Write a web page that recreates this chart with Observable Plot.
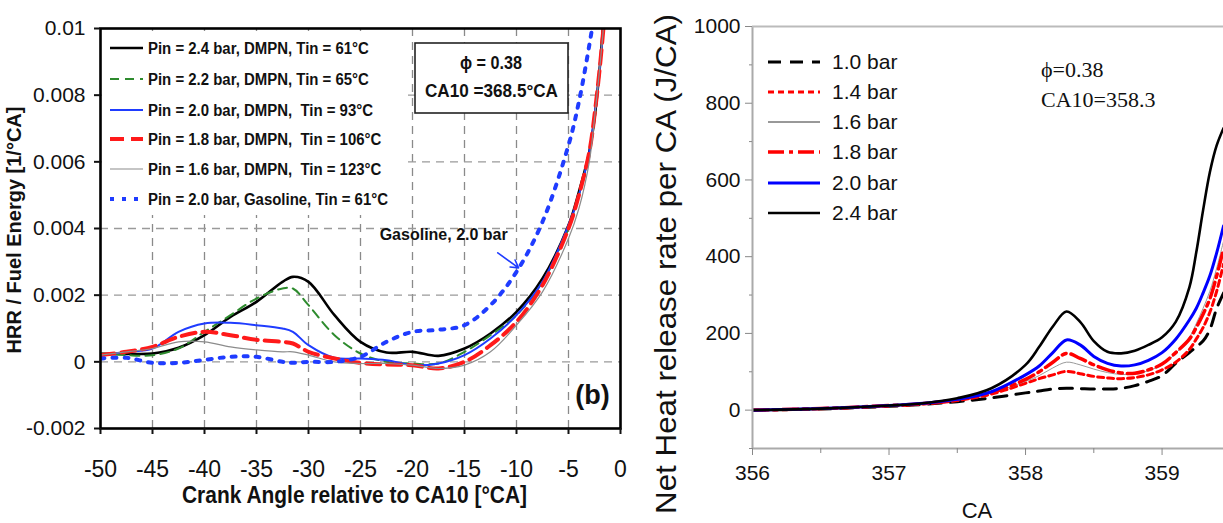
<!DOCTYPE html>
<html><head><meta charset="utf-8">
<script src="https://cdn.jsdelivr.net/npm/d3@7"></script>
<script src="https://cdn.jsdelivr.net/npm/@observablehq/plot@0.6"></script>
<style>
body{margin:0;background:#fff;}
#wrap{position:relative;width:1223px;height:523px;overflow:hidden;background:#fff;}
#left,#right{position:absolute;top:0;}
#left{left:0;} #right{left:640px;}
#overlay{position:absolute;left:0;top:0;pointer-events:none;}
</style></head><body>
<div id="wrap"><div id="left"></div><div id="right"></div><svg id="overlay" width="1223" height="523"></svg></div>
<script>
// ---------- Left panel (b): normalized HRR vs crank angle relative to CA10 ----------
const leftCA = [-50,-47.5,-45,-42.5,-40,-37.5,-35,-32.5,-31.5,-30,-27.5,-25,-22.5,-20,-17.5,-15,-12.5,-10,-7.5,-5,-4,-3,-2.5,-2,-1.5];
const dmpn24 = [0.00024,0.00024,0.00025,0.00042,0.0008,0.00135,0.0018,0.0024,0.00255,0.0024,0.0014,0.0006,0.00028,0.0003,0.00018,0.0004,0.00085,0.0015,0.0025,0.0041,0.0051,0.0063,0.0073,0.0088,0.0108];
const dmpn22 = [0.00025,0.0002,0.0002,0.0004,0.0009,0.0014,0.0019,0.0022,0.0022,0.0017,0.0008,0.00025,0.0,-0.00005,-0.00005,0.0003,0.0008,0.0014,0.0024,0.004,0.005,0.0063,0.0073,0.0088,0.0107];
const dmpn20 = [0.0002,0.0003,0.0004,0.0009,0.00115,0.00117,0.0011,0.001,0.0009,0.0005,0.00012,0.0001,0.00005,-0.0001,-0.00005,0.0002,0.0007,0.0014,0.0024,0.0041,0.005,0.0063,0.0074,0.0088,0.0105];
const dmpn18 = [0.0002,0.0003,0.00045,0.00075,0.0009,0.0008,0.00066,0.0006,0.00055,0.0003,0.0001,-0.00003,-0.00008,-0.0001,-0.0002,0.0,0.0005,0.0012,0.0023,0.004,0.005,0.0063,0.0074,0.0088,0.0105];
const dmpn16 = [0.0002,0.0003,0.0004,0.0006,0.0006,0.00045,0.00036,0.0003,0.0003,0.0002,0.0,-0.00005,-0.00005,-0.0001,-0.0002,-0.0001,0.0003,0.0011,0.0021,0.0037,0.0046,0.006,0.0073,0.0088,0.0105];
const gasoline20 = [0.0001,0.00012,-0.00003,-0.00003,0.00006,0.00015,0.00015,0.0,-0.00003,0.0,0.0,0.00015,0.0006,0.0009,0.00096,0.0011,0.0017,0.0027,0.0042,0.0065,0.0078,0.0095,0.0105,0.012,0.014];
const leftLabels = [
  "Pin = 2.4 bar, DMPN, Tin = 61°C",
  "Pin = 2.2 bar, DMPN, Tin = 65°C",
  "Pin = 2.0 bar, DMPN,  Tin = 93°C",
  "Pin = 1.8 bar, DMPN,  Tin = 106°C",
  "Pin = 1.6 bar, DMPN,  Tin = 123°C",
  "Pin = 2.0 bar, Gasoline, Tin = 61°C"
];
const leftXTicks = [-50,-45,-40,-35,-30,-25,-20,-15,-10,-5,0];
const leftYTicks = [-0.002,0,0.002,0.004,0.006,0.008,0.01];

// ---------- Right panel: net heat release rate per CA ----------
const rightCA = [356,356.5,357,357.25,357.5,357.75,358,358.1,358.2,358.3,358.4,358.5,358.6,358.7,358.8,358.9,359,359.1,359.2,359.25,359.3,359.35,359.4,359.45];
const bar10 = [0,3,10,15,22,32,45,50,55,57,56,55,55,57,64,75,90,122,150,165,180,210,265,305];
const bar14 = [0,4,11,16,25,42,70,82,92,101,95,88,84,82,85,92,105,125,158,185,215,255,310,380];
const bar16 = [0,4,12,17,26,44,75,90,110,125,118,107,98,93,94,103,118,148,190,225,265,310,370,440];
const bar18 = [0,4,12,17,27,45,80,100,125,148,135,118,105,97,96,105,120,150,185,215,250,290,350,420];
const bar20 = [0,4,12,18,28,48,92,115,150,183,170,140,122,115,118,130,150,185,235,265,305,350,410,480];
const bar24 = [0,4,12,18,31,57,118,165,218,257,230,180,152,148,155,170,190,230,320,410,520,620,690,735];
const rightLabels = ["1.0 bar","1.4 bar","1.6 bar","1.8 bar","2.0 bar","2.4 bar"];
const rightXTicks = [356,357,358,359];
const rightXMinor = [356.5,357.5,358.5];
const rightYTicks = [0,200,400,600,800,1000];
const rightYMinor = [-100,100,300,500,700,900];

// ---------- styles (kept separate from data) ----------
const arial = "'Liberation Sans',Arial,Helvetica,sans-serif";
const leftStyles = [
  {v: dmpn24, stroke: "#000000", w: 2.6, dash: null},
  {v: dmpn22, stroke: "#2e8b2e", w: 2, dash: "9,6"},
  {v: dmpn20, stroke: "#1f3cff", w: 2, dash: null},
  {v: dmpn18, stroke: "#ff1a1a", w: 4, dash: "14,7"},
  {v: dmpn16, stroke: "#8c8c8c", w: 1.2, dash: null},
  {v: gasoline20, stroke: "#1f3cff", w: 4, dash: "4,8"}
];
const rightStyles = [
  {v: bar10, stroke: "#000000", legend: "#000000", w: 3, dash: "13,9"},
  {v: bar14, stroke: "#ff0000", legend: "#ff0000", w: 3, dash: "6,4"},
  {v: bar16, stroke: "#9a9a9a", legend: "#333333", w: 1, dash: null},
  {v: bar18, stroke: "#ff0000", legend: "#ff0000", w: 3.5, dash: "16,5,4,5"},
  {v: bar20, stroke: "#0000ff", legend: "#0000ff", w: 3, dash: null},
  {v: bar24, stroke: "#000000", legend: "#000000", w: 2.6, dash: null}
];

// ---------- Left plot ----------
const leftPlot = Plot.plot({
  width: 640, height: 523,
  marginLeft: 100, marginRight: 20, marginTop: 28, marginBottom: 95,
  style: {fontFamily: arial, color: "#111", background: "transparent"},
  x: {domain: [-50, 0]},
  y: {domain: [-0.002, 0.01]},
  marks: [
    Plot.gridX(leftXTicks.slice(1, -1), {stroke: "#8a8a8a", strokeOpacity: 1, strokeWidth: 1.3, strokeDasharray: "8,6"}),
    Plot.gridY(leftYTicks.slice(1, -1), {stroke: "#9a9a9a", strokeOpacity: 1, strokeWidth: 1.3, strokeDasharray: "8,6"}),
    ...leftStyles.map(s => Plot.line(leftCA.map((x, i) => ({x, y: s.v[i]})), {
      x: "x", y: "y", stroke: s.stroke, strokeWidth: s.w, strokeDasharray: s.dash,
      curve: "catmull-rom", clip: true
    })),
    Plot.text([{x: -17, y: 0.0038, t: "Gasoline, 2.0 bar"}], {x: "x", y: "y", text: "t", fontSize: 16, fontWeight: "bold", fill: "#111"}),
    Plot.arrow([{x1: -11.8, y1: 0.00327, x2: -9.8, y2: 0.00282}], {x1: "x1", y1: "y1", x2: "x2", y2: "y2", stroke: "#1f3cff", strokeWidth: 1.6, headLength: 9}),
    Plot.text([{x: -2.7, y: -0.001, t: "(b)"}], {x: "x", y: "y", text: "t", fontSize: 27, fontWeight: "bold", fill: "#111"}),
    Plot.frame({stroke: "#000", strokeWidth: 2.6}),
    Plot.axisX({ticks: leftXTicks, tickFormat: d => String(d), tickSize: 6, tickPadding: 26, fontSize: 23, strokeWidth: 2, label: null}),
    Plot.axisY({ticks: leftYTicks, tickFormat: d => String(+d.toFixed(3)), tickSize: 6, tickPadding: 9, fontSize: 21, strokeWidth: 2, label: null})
  ]
});
document.getElementById("left").appendChild(leftPlot);

// ---------- Right plot ----------
const rightPlot = Plot.plot({
  width: 583, height: 523,
  marginLeft: 112, marginRight: 0, marginTop: 26, marginBottom: 75,
  style: {fontFamily: arial, color: "#111", background: "transparent"},
  x: {domain: [356, 359.45]},
  y: {domain: [-100, 1000]},
  marks: [
    ...rightStyles.map(s => Plot.line(rightCA.map((x, i) => ({x, y: s.v[i]})), {
      x: "x", y: "y", stroke: s.stroke, strokeWidth: s.w, strokeDasharray: s.dash,
      curve: "catmull-rom", clip: true
    })),
    Plot.ruleX([356], {stroke: "#aaaaaa", strokeWidth: 2}),
    Plot.ruleY([-100], {stroke: "#aaaaaa", strokeWidth: 2}),
    Plot.ruleY([1000], {stroke: "#bbbbbb", strokeWidth: 2}),
    Plot.axisX({ticks: rightXTicks, tickFormat: d => String(d), tickSize: 7, tickPadding: 10, fontSize: 21, stroke: "#888", label: null}),
    Plot.axisX({ticks: rightXMinor, tickSize: 5, text: null, stroke: "#888", label: null}),
    Plot.axisY({ticks: rightYTicks, tickFormat: d => String(d), tickSize: 7, tickPadding: 5, fontSize: 21, stroke: "#888", label: null}),
    Plot.axisY({ticks: rightYMinor, tickSize: 3, text: null, stroke: "#888", label: null})
  ]
});
document.getElementById("right").appendChild(rightPlot);

// ---------- Overlay: legends, annotation boxes, axis titles ----------
const ov = d3.select("#overlay");

// left legend (white background hides grid)
ov.append("rect").attr("x", 102).attr("y", 31).attr("width", 300).attr("height", 184).attr("fill", "#fff");
const lRows = [48, 79, 110, 139, 169, 199];
leftStyles.forEach((s, i) => {
  ov.append("line").attr("x1", 110).attr("x2", 143).attr("y1", lRows[i]).attr("y2", lRows[i])
    .attr("stroke", s.stroke).attr("stroke-width", s.w).attr("stroke-dasharray", s.dash);
  ov.append("text").attr("transform", `translate(148,${lRows[i] + 6}) scale(0.88,1)`).text(leftLabels[i])
    .attr("font-family", arial).attr("font-weight", "bold").attr("font-size", 17).attr("fill", "#111")
    .attr("xml:space", "preserve").style("white-space", "pre");
});
// left annotation box
ov.append("rect").attr("x", 415).attr("y", 43).attr("width", 153).attr("height", 70)
  .attr("fill", "#fff").attr("stroke", "#222").attr("stroke-width", 1.6);
ov.append("text").attr("x", 460).attr("y", 69).attr("textLength", 62).attr("lengthAdjust", "spacingAndGlyphs").text("ϕ = 0.38")
  .attr("font-family", arial).attr("font-weight", "bold").attr("font-size", 18).attr("fill", "#111");
ov.append("text").attr("x", 425).attr("y", 97).attr("textLength", 133).attr("lengthAdjust", "spacingAndGlyphs").text("CA10 =368.5°CA")
  .attr("font-family", arial).attr("font-weight", "bold").attr("font-size", 18).attr("fill", "#111");
// left axis titles
ov.append("text").attr("x", 182).attr("y", 503).attr("textLength", 345).attr("lengthAdjust", "spacingAndGlyphs")
  .text("Crank Angle relative to CA10 [°CA]")
  .attr("font-family", arial).attr("font-weight", "bold").attr("font-size", 23).attr("fill", "#111");
ov.append("text").attr("transform", "translate(21,230) rotate(-90)").attr("text-anchor", "middle")
  .text("HRR / Fuel Energy [1/°CA]")
  .attr("font-family", arial).attr("font-weight", "bold").attr("font-size", 20).attr("fill", "#111");

// right legend
const rRows = [62, 92, 122, 152, 183, 213];
rightStyles.forEach((s, i) => {
  ov.append("line").attr("x1", 768).attr("x2", 820).attr("y1", rRows[i]).attr("y2", rRows[i])
    .attr("stroke", s.legend).attr("stroke-width", s.w).attr("stroke-dasharray", s.dash);
  ov.append("text").attr("x", 832).attr("y", rRows[i] + 7).text(rightLabels[i])
    .attr("font-family", arial).attr("font-size", 21).attr("fill", "#111");
});
// right annotation
ov.append("text").attr("x", 1041).attr("y", 77).text("ϕ=0.38")
  .attr("font-family", "'Liberation Serif','Times New Roman',serif").attr("font-size", 22).attr("fill", "#111");
ov.append("text").attr("x", 1041).attr("y", 107).text("CA10=358.3")
  .attr("font-family", "'Liberation Serif','Times New Roman',serif").attr("font-size", 22).attr("fill", "#111");
// right axis titles
ov.append("text").attr("x", 977).attr("y", 518).attr("text-anchor", "middle").text("CA")
  .attr("font-family", arial).attr("font-size", 22).attr("fill", "#111");
ov.append("text").attr("transform", "translate(676,264) rotate(-90)").attr("text-anchor", "middle")
  .attr("textLength", 500).attr("lengthAdjust", "spacingAndGlyphs")
  .text("Net Heat release rate per CA (J/CA)")
  .attr("font-family", arial).attr("font-size", 29).attr("fill", "#111");
</script>
</body></html>
